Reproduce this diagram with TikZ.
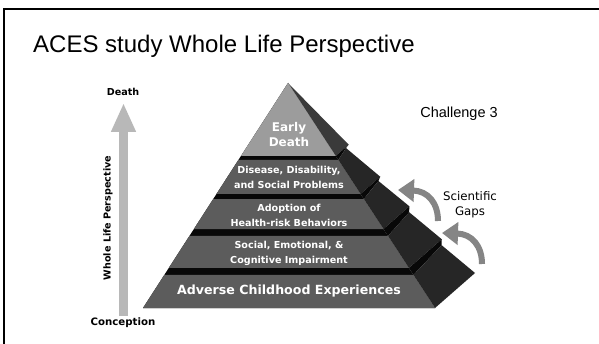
\documentclass[tikz,border=0pt]{standalone}
\usepackage{fontspec}
\setmainfont{Liberation Sans}
\newfontfamily\dv{DejaVu Sans}
\usetikzlibrary{calc,arrows.meta}
\definecolor{fronttop}{HTML}{9C9C9C}
\definecolor{frontlayer}{HTML}{5C5C5C}
\definecolor{sidetop}{HTML}{3A3A3A}
\definecolor{sidelayer}{HTML}{262626}
\definecolor{gapblack}{HTML}{080808}
\definecolor{lifegray}{HTML}{B8B8B8}
\definecolor{gapgray}{HTML}{858585}
\tikzset{
  lab/.style={font=\dv\bfseries\fontsize{9.6}{12}\selectfont, inner sep=0pt},
  laylab/.style={font=\dv\bfseries\fontsize{9.6}{15}\selectfont, text=white, align=center, inner sep=0pt},
  gaparrow/.style={draw=gapgray, line width=6pt, -{Triangle[length=16pt,width=22pt]}},
}
\begin{document}
\begin{tikzpicture}[x=1pt,y=-1pt]
\useasboundingbox (0,0) rectangle (599,344);
\fill[white] (0,0) rectangle (599,344);
\draw[line width=2pt] (4,344) -- (4,9) -- (599,9);

\node[anchor=base west, font=\fontsize{24}{28}\selectfont, inner sep=0pt] (title) at (33,53) {ACES study Whole Life Perspective};

% life arrow
\coordinate (lbot) at (123.5,316);
\coordinate (ltop) at (123.5,103);
\draw[draw=lifegray, line width=8.5pt, -{Triangle[length=29pt,width=23pt]}] (lbot) -- (ltop);
\node[lab] (death) at (123,92) {Death};
\node[lab, font=\dv\bfseries\fontsize{10.2}{12}\selectfont] (conc) at (123,323) {Conception};
\node[lab, rotate=90] (wlp) at (108,218) {Whole Life Perspective};

% pyramid geometry
\coordinate (apex) at (288,83);
\coordinate (FL) at (143,308);
\coordinate (FR) at (435,308);
\coordinate (BR) at (475,273);
\foreach \n/\t in {1/0.3244,2/0.3422,3/0.4933,4/0.5156,5/0.6489,6/0.68,7/0.8222,8/0.8533,9/1}{
  \coordinate (L\n) at ($(apex)!\t!(FL)$);
  \coordinate (R\n) at ($(apex)!\t!(FR)$);
  \coordinate (B\n) at ($(apex)!\t!(BR)$);
  \coordinate (S\n) at ($(B\n)+(-6,0)$);
}
% front background (gaps)
\fill[gapblack] (apex) -- (FL) -- (FR) -- cycle;
% side faces
\fill[sidetop] (apex) -- (R1) -- (B1) -- cycle;
\fill[gapblack] (R1) -- (B1) -- (S2) -- (R2) -- cycle;
\fill[sidelayer] (R2) -- (S2) -- (B3) -- (R3) -- cycle;
\fill[gapblack] (R3) -- (B3) -- (S4) -- (R4) -- cycle;
\fill[sidelayer] (R4) -- (S4) -- (B5) -- (R5) -- cycle;
\fill[gapblack] (R5) -- (B5) -- (S6) -- (R6) -- cycle;
\fill[sidelayer] (R6) -- (S6) -- (B7) -- (R7) -- cycle;
\fill[gapblack] (R7) -- (B7) -- (S8) -- (R8) -- cycle;
\fill[sidelayer] (R8) -- (S8) -- (B9) -- (R9) -- cycle;
% front faces
\fill[fronttop] (apex) -- (L1) -- (R1) -- cycle;
\fill[frontlayer] (L2) -- (R2) -- (R3) -- (L3) -- cycle;
\fill[frontlayer] (L4) -- (R4) -- (R5) -- (L5) -- cycle;
\fill[frontlayer] (L6) -- (R6) -- (R7) -- (L7) -- cycle;
\fill[frontlayer] (L8) -- (R8) -- (R9) -- (L9) -- cycle;

% layer labels
\node[laylab, font=\dv\bfseries\fontsize{12}{15}\selectfont] (early) at (289,134.5) {Early\\Death};
\node[laylab] (dis) at (289,177.5) {Disease, Disability,\\and Social Problems};
\node[laylab] (adop) at (289,215.5) {Adoption of\\Health-risk Behaviors};
\node[laylab] (soc) at (289,253.5) {Social, Emotional, \&\\Cognitive Impairment};
\node[laylab, font=\dv\bfseries\fontsize{12.6}{15}\selectfont] (ace) at (289,291.5) {Adverse Childhood Experiences};

% right labels
\node[font=\fontsize{14.5}{16}\selectfont, inner sep=0pt] (chal) at (459,114) {Challenge 3};
\node[laylab, text=black, font=\dv\fontsize{11.8}{15}\selectfont] (gaps) at (470,204.5) {Scientific\\Gaps};

% gap arrows
\coordinate (g1tail) at (438,221);
\coordinate (g1tip) at (398,190);
\coordinate (g2tail) at (482,264);
\coordinate (g2tip) at (442,233);
\draw[gaparrow] (g1tail) .. controls (438,203) and (428,191) .. (g1tip);
\draw[gaparrow] (g2tail) .. controls (482,246) and (472,234) .. (g2tip);
\end{tikzpicture}
\end{document}
